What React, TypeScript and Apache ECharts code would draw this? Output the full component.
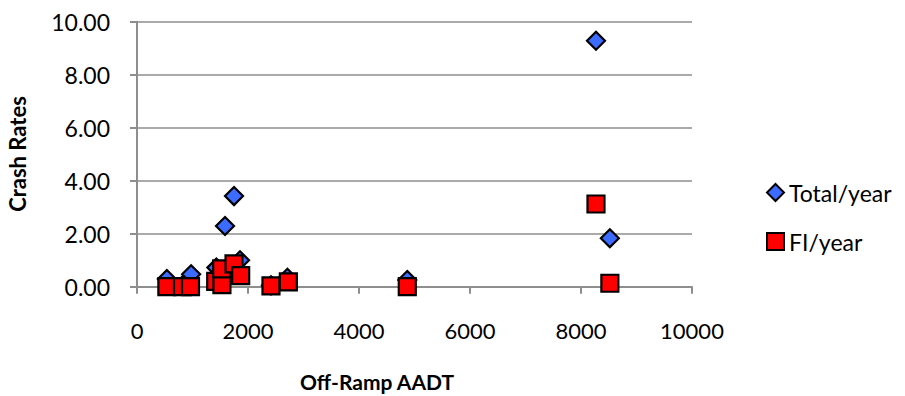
import React, { useEffect, useRef } from "react";
import * as echarts from "echarts";

const xTicks = [0, 2000, 4000, 6000, 8000, 10000];
const yTicks = [0, 2, 4, 6, 8, 10];

const totalX = [538, 820, 975, 1500, 1430, 1586, 1748, 1856, 2414, 2710, 4870, 8270, 8520];
const totalY = [0.29, 0.05, 0.47, 0.2, 0.72, 2.29, 3.42, 1.0, 0.05, 0.34, 0.25, 9.28, 1.83];

const fiX = [538, 820, 964, 1418, 1530, 1526, 1748, 1868, 2414, 2727, 4870, 8270, 8520];
const fiY = [0.0, 0.0, 0.0, 0.2, 0.08, 0.67, 0.86, 0.42, 0.03, 0.18, 0.0, 3.12, 0.13];

const seriesNames = ["Total/year", "FI/year"];
const xTitle = "Off-Ramp AADT";
const yTitle = "Crash Rates";

const FONT = "Lato, 'Open Sans', sans-serif";

export default function App() {
  const ref = useRef<HTMLDivElement>(null);
  useEffect(() => {
    document.body.style.margin = "0";
    const chart = echarts.init(ref.current!, null, { renderer: "svg" });
    const gridColor = "#8e8e8e";
    chart.setOption({
      animation: false,
      textStyle: { fontFamily: FONT, color: "#000" },
      grid: { left: 137, right: 213, top: 21.7, bottom: 109.3 },
      legend: {
        orient: "vertical",
        left: 761,
        top: 176,
        itemWidth: 17,
        itemHeight: 17,
        itemGap: 26,
        textStyle: { fontFamily: FONT, fontSize: 23, color: "#000" },
        data: [
          { name: seriesNames[0], icon: "diamond" },
          { name: seriesNames[1], icon: "rect" },
        ],
      },
      xAxis: {
        type: "value",
        min: xTicks[0],
        max: xTicks[xTicks.length - 1],
        interval: xTicks[1] - xTicks[0],
        axisLine: { show: true, lineStyle: { color: gridColor, width: 2 } },
        axisTick: { show: true, inside: false, length: 7, lineStyle: { color: gridColor, width: 2 } },
        splitLine: { show: false },
        axisLabel: {
          margin: 33,
          fontSize: 22,
          color: "#000",
          fontFamily: FONT,
          formatter: (v: number) => String(v),
        },
      },
      yAxis: {
        type: "value",
        min: yTicks[0],
        max: yTicks[yTicks.length - 1],
        interval: yTicks[1] - yTicks[0],
        axisLine: { show: true, lineStyle: { color: gridColor, width: 2 } },
        axisTick: { show: true, inside: false, length: 7, lineStyle: { color: gridColor, width: 2 } },
        splitLine: { show: true, lineStyle: { color: gridColor, width: 1.5 } },
        axisLabel: {
          margin: 27,
          fontSize: 23,
          color: "#000",
          fontFamily: FONT,
          formatter: (v: number) => v.toFixed(2),
        },
      },
      graphic: [
        {
          type: "text",
          x: 377,
          y: 381,
          style: {
            text: xTitle,
            fontFamily: FONT,
            fontSize: 21,
            fontWeight: "bold",
            fill: "#000",
            align: "center",
            verticalAlign: "middle",
          },
        },
        {
          type: "text",
          x: 17,
          y: 154,
          rotation: Math.PI / 2,
          style: {
            text: yTitle,
            fontFamily: FONT,
            fontSize: 22,
            fontWeight: "bold",
            fill: "#000",
            align: "center",
            verticalAlign: "middle",
          },
        },
      ],
      series: [
        {
          name: seriesNames[0],
          type: "scatter",
          symbol: "diamond",
          symbolSize: 18,
          itemStyle: { color: "#3b6cff", borderColor: "#000", borderWidth: 2.2, opacity: 1 },
          data: totalX.map((x, i) => [x, totalY[i]]),
          z: 2,
        },
        {
          name: seriesNames[1],
          type: "scatter",
          symbol: "rect",
          symbolSize: 17,
          itemStyle: { color: "#ff0000", borderColor: "#000", borderWidth: 2.2, opacity: 1 },
          data: fiX.map((x, i) => [x, fiY[i]]),
          z: 3,
        },
      ],
    });
    return () => chart.dispose();
  }, []);
  return <div ref={ref} style={{ width: 905, height: 396 }} />;
}
